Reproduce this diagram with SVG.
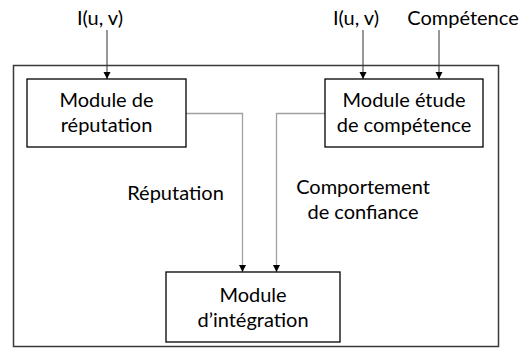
<svg xmlns="http://www.w3.org/2000/svg" width="520" height="349" viewBox="0 0 520 349">
<defs>
<marker id="ah" markerWidth="8" markerHeight="8" refX="7" refY="4" orient="auto" markerUnits="userSpaceOnUse">
<path d="M0,0.5 L7,4 L0,7.5 Z" fill="#000"/>
</marker>
<style>
text{font-family:Lato,"Open Sans","Liberation Sans",sans-serif;font-size:20px;fill:#000;text-anchor:middle}
.box{fill:#fff;stroke:#000;stroke-width:1.3}
.in{fill:none;stroke:#333;stroke-width:1}
.int{fill:none;stroke:#a0a0a0;stroke-width:1.3}
</style>
</defs>
<rect width="520" height="349" fill="#fff"/>
<rect id="frame" x="13.5" y="65.5" width="485" height="281" fill="none" stroke="#3a3a3a" stroke-width="1.5"/>
<g id="labels">
<text x="100" y="25">I(u, v)</text>
<text x="356" y="25">I(u, v)</text>
<text x="463" y="25">Compétence</text>
<text x="175.5" y="200">Réputation</text>
<text x="363" y="194">Comportement</text>
<text x="363" y="219">de confiance</text>
</g>
<g id="connectors">
<line class="in" x1="107" y1="30" x2="107" y2="79" marker-end="url(#ah)"/>
<line class="in" x1="363" y1="30" x2="363" y2="79" marker-end="url(#ah)"/>
<line class="in" x1="439" y1="30" x2="439" y2="79" marker-end="url(#ah)"/>
<polyline class="int" points="186,113.5 242.5,113.5 242.5,272" marker-end="url(#ah)"/>
<polyline class="int" points="325,113.5 276.5,113.5 276.5,272" marker-end="url(#ah)"/>
</g>
<g id="module-reputation">
<rect class="box" x="27" y="79" width="159" height="68"/>
<text x="106.5" y="107">Module de</text>
<text x="106.5" y="132">réputation</text>
</g>
<g id="module-competence">
<rect class="box" x="325" y="79" width="158" height="68"/>
<text x="404" y="107">Module étude</text>
<text x="404" y="132">de compétence</text>
</g>
<g id="module-integration">
<rect class="box" x="166" y="272" width="174" height="70"/>
<text x="253" y="302">Module</text>
<text x="253" y="327">d’intégration</text>
</g>
</svg>
